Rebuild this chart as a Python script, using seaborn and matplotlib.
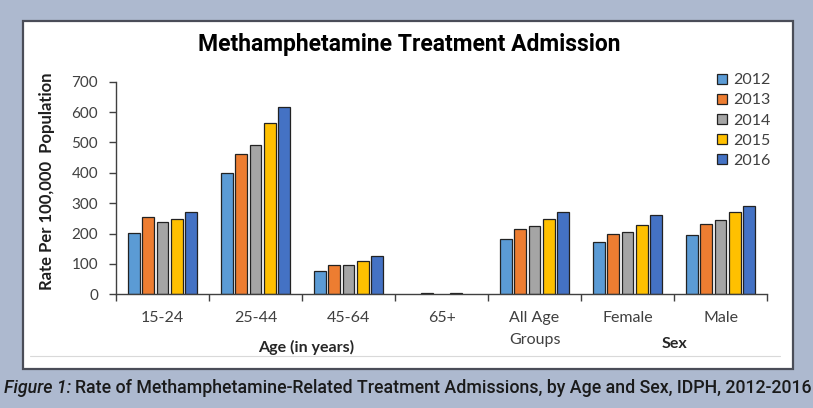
import numpy as np
import pandas as pd
import matplotlib
matplotlib.use("Agg")
import matplotlib.pyplot as plt
import matplotlib.patches as patches
from matplotlib.lines import Line2D
import seaborn as sns

# ---------------- DATA ----------------
groups = ["15-24", "25-44", "45-64", "65+", "All Age\nGroups", "Female", "Male"]
years = ["2012", "2013", "2014", "2015", "2016"]

rate_2012 = [203, 398, 77, np.nan, 183, 171, 195]
rate_2013 = [253, 461, 97, 3, 216, 200, 233]
rate_2014 = [239, 493, 96, np.nan, 224, 204, 244]
rate_2015 = [248, 563, 110, 3, 248, 228, 270]
rate_2016 = [272, 616, 125, np.nan, 272, 261, 290]

year_colors = ["#5B9BD5", "#ED7D31", "#A5A5A5", "#FFC000", "#4472C4"]

# long format for seaborn
rows = []
for yr, vals in zip(years, [rate_2012, rate_2013, rate_2014, rate_2015, rate_2016]):
    for g, v in zip(groups, vals):
        rows.append({"group": g, "year": yr, "rate": v})
df = pd.DataFrame(rows)

# ---------------- STYLE ----------------
sns.set_theme(style="white")
plt.rcParams["font.family"] = ["Lato", "DejaVu Sans"]

W, H = 813, 408
fig = plt.figure(figsize=(W / 100, H / 100), dpi=100)
fig.patch.set_facecolor("#adb9cf")

# white panel behind the chart
panel = patches.Rectangle((23 / W, 1 - 369 / H), (793 - 23) / W, (369 - 21) / H,
                          transform=fig.transFigure, facecolor="white",
                          edgecolor="#4a4d58", linewidth=1.6, zorder=-10)
fig.patches.append(panel)
fig.lines.append(Line2D([30 / W, 780 / W], [1 - 356 / H, 1 - 356 / H],
                        transform=fig.transFigure, color="#d9d9d9", lw=0.8, zorder=-5))

ax = fig.add_axes([116 / W, 1 - 294.3 / H, (767 - 116) / W, (294.3 - 81.7) / H])
ax.set_facecolor("none")
ax.set_zorder(1)

sns.barplot(data=df, x="group", y="rate", hue="year", order=groups,
            hue_order=years, palette=year_colors, saturation=1,
            width=0.77, gap=0.18, edgecolor="#222222", linewidth=0.9,
            ax=ax, errorbar=None)

ax.set_ylim(0, 700)
ax.set_xlim(-0.5, len(groups) - 0.5)
ax.set_yticks(range(0, 701, 100))
ax.set_xlabel("")
ax.set_ylabel("")

for s in ["top", "right"]:
    ax.spines[s].set_visible(False)
for s in ["left", "bottom"]:
    ax.spines[s].set_color("#404040")
    ax.spines[s].set_linewidth(1.0)

ax.tick_params(axis="y", which="major", direction="out", length=5, width=1,
               color="#404040", labelsize=11, labelcolor="#404040", pad=8, left=True)
ax.set_xticks(np.arange(-0.5, len(groups), 1), minor=True)
ax.tick_params(axis="x", which="minor", direction="out", length=5, width=1,
               color="#404040", bottom=True)
ax.tick_params(axis="x", which="major", length=0, labelsize=11.5,
               labelcolor="#404040", pad=12)
for lbl in ax.get_xticklabels():
    lbl.set_linespacing(1.75)

# group captions under the categories
xt = ax.get_xaxis_transform()
ax.text(1.55, -0.25, "Age (in years)", transform=xt, ha="center", va="center",
        fontsize=11.5, fontweight="bold", color="#262626")
ax.text(5.5, -0.233, "Sex", transform=xt, ha="center", va="center",
        fontsize=11.5, fontweight="bold", color="#262626")

# legend
ax.legend(title=None, frameon=False, loc="upper left",
          bbox_to_anchor=(703 / W, 1 - 59 / H), bbox_transform=fig.transFigure,
          handlelength=0.6, handleheight=0.6, handletextpad=0.4,
          labelspacing=0.38, fontsize=11.5, labelcolor="#404040")

# title and axis label
fig.text(409 / W, 1 - 45 / H, "Methamphetamine Treatment Admission",
         ha="center", va="center", fontsize=16.5, fontweight="bold",
         family=["Roboto", "DejaVu Sans"], color="black")
fig.text(47 / W, 1 - 181 / H, "Rate Per 100,000  Population", rotation=90,
         ha="center", va="center", fontsize=12, fontweight="bold", color="#1f1f1f")

# caption
cap_font = dict(fontsize=12.8, family=["Roboto", "DejaVu Sans"],
                fontweight="medium", color="#1a1a1a")
cap1 = fig.text(4 / W, 1 - 388 / H, "Figure 1:", ha="left", va="center",
                style="italic", **cap_font)
fig.canvas.draw()
bb = cap1.get_window_extent()
fig.text(bb.x1 / W + 4 / W, 1 - 388 / H,
         "Rate of Methamphetamine-Related Treatment Admissions, by Age and Sex, IDPH, 2012-2016",
         ha="left", va="center", **cap_font)

fig.savefig("out.png", dpi=100, facecolor=fig.get_facecolor())
